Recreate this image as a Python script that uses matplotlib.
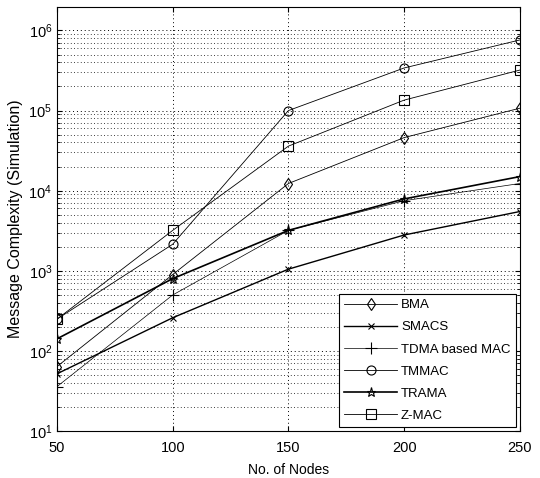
import matplotlib
matplotlib.use("Agg")
import matplotlib.pyplot as plt
from matplotlib.ticker import LogLocator, NullFormatter, FixedLocator

plt.rcParams['font.family'] = ['Liberation Sans', 'DejaVu Sans']

nodes = [50, 100, 150, 200, 250]
bma = [64, 900, 12300, 46000, 107000]
smacs = [52, 260, 1050, 2800, 5500]
tdma = [36, 500, 3200, 7500, 12300]
tmmac = [250, 2150, 100000, 340000, 760000]
trama = [142, 800, 3200, 7900, 15000]
zmac = [250, 3200, 36000, 135000, 320000]

labels = ['BMA', 'SMACS', 'TDMA based MAC', 'TMMAC', 'TRAMA', 'Z-MAC']
series = [bma, smacs, tdma, tmmac, trama, zmac]
markers = ['d', 'x', '+', 'o', '*', 's']
widths = [0.6, 1.0, 0.5, 0.6, 1.2, 0.6]
msizes = [6.5, 4, 8, 6.5, 6.5, 6.5]

fig = plt.figure(figsize=(5.4, 4.78), dpi=100)
ax = fig.add_axes([0.1056, 0.098, 0.857, 0.887])

for lab, vals, m, lw, ms in zip(labels, series, markers, widths, msizes):
    ax.plot(nodes, vals, color='black', linewidth=lw, marker=m, markersize=ms,
            markerfacecolor='none', markeredgecolor='black', markeredgewidth=0.8,
            label=lab)

ax.set_yscale('log')
ax.set_xlim(50, 250)
ax.set_ylim(10, 1.95e6)
ax.xaxis.set_major_locator(FixedLocator(nodes))
ax.yaxis.set_major_locator(LogLocator(base=10, numticks=10))
ax.yaxis.set_minor_locator(LogLocator(base=10, subs=range(2, 10), numticks=20))
ax.yaxis.set_minor_formatter(NullFormatter())

ax.grid(True, which='major', linestyle=(0, (1, 3)), color='black', linewidth=0.7)
ax.grid(True, which='minor', axis='y', linestyle=(0, (1, 3)), color='black', linewidth=0.6)

ax.tick_params(direction='in', which='both', top=True, right=True, labelsize=10.5)
ax.tick_params(axis='x', pad=7)
ax.set_xlabel('No. of Nodes', fontsize=10, labelpad=6)
ax.set_ylabel('Message Complexity (Simulation)', fontsize=11.5, labelpad=4)

leg = ax.legend(loc='lower right', fontsize=9.5, frameon=True, fancybox=False,
                edgecolor='black', framealpha=1, borderaxespad=0.3,
                handlelength=4.0, labelspacing=0.75, handletextpad=0.3)
leg.get_frame().set_linewidth(0.8)

fig.savefig('out.png', dpi=100)
